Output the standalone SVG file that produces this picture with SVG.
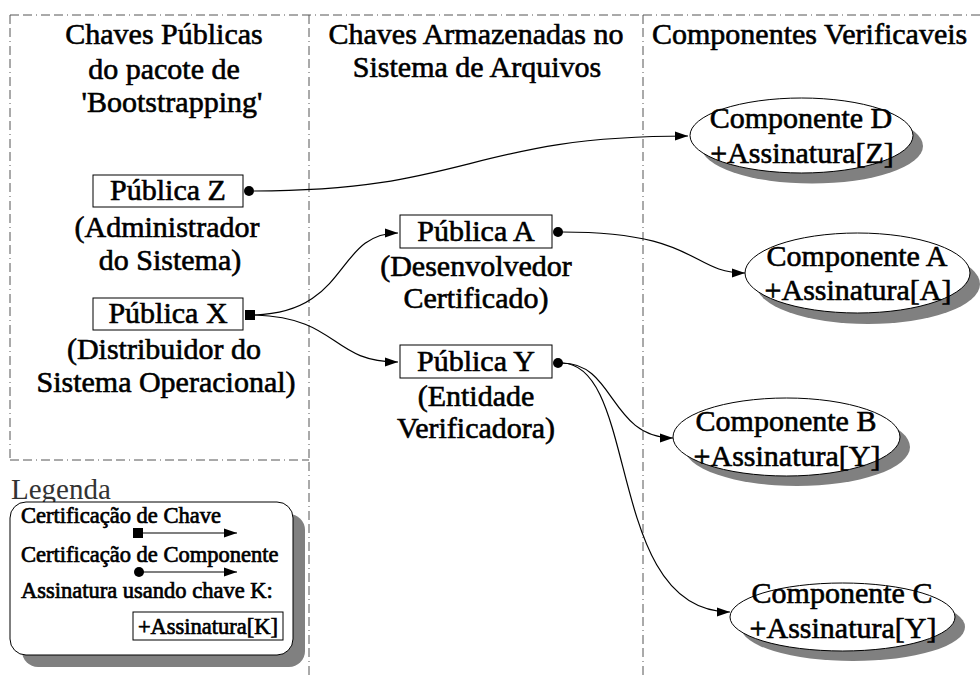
<svg xmlns="http://www.w3.org/2000/svg" width="980" height="678" viewBox="0 0 980 678">
<style>
text{font-family:'Liberation Serif','Times New Roman',Tinos,Times,serif}
.t{font-size:30px;fill:#000;stroke:#000;stroke-width:0.6}
.m{text-anchor:middle}
.lg{font-size:22.5px;fill:#000;stroke:#000;stroke-width:0.7}
.lt{font-size:29px;fill:#333}
.sep{stroke:#555;stroke-width:1;stroke-dasharray:9 4 9 4 1 4;fill:none}
.box{fill:#fff;stroke:#000;stroke-width:1}
.sh{fill:#808080}
.c{fill:none;stroke:#000;stroke-width:1.2}
</style>
<defs>
<marker id="ar" markerUnits="userSpaceOnUse" markerWidth="14" markerHeight="10" refX="13" refY="5" orient="auto">
<path d="M0,0.5 L13,5 L0,9.5 Z" fill="#000"/>
</marker>
</defs>
<rect width="980" height="678" fill="#fff"/>
<g id="separators">
<path class="sep" d="M10,15 H980 M10,15 V460 M309,15 V678 M643,15 V678 M10,460 H309"/>
</g>
<g id="headers">
<text class="t m" x="164" y="44">Chaves Públicas</text>
<text class="t m" x="164" y="79">do pacote de</text>
<text class="t m" x="172" y="112">'Bootstrapping'</text>
<text class="t m" x="476" y="44">Chaves Armazenadas no</text>
<text class="t m" x="477" y="77">Sistema de Arquivos</text>
<text class="t" x="652" y="44">Componentes Verificaveis</text>
</g>
<g id="publica-z">
<rect class="box" x="93" y="175" width="150" height="32"/>
<text class="t m" x="168" y="200">Pública Z</text>
<text class="t m" x="167" y="237">(Administrador</text>
<text class="t m" x="170" y="270">do Sistema)</text>
</g>
<g id="publica-x">
<rect class="box" x="93" y="298" width="150" height="32"/>
<text class="t m" x="168" y="323">Pública X</text>
<text class="t m" x="164" y="359">(Distribuidor do</text>
<text class="t m" x="166" y="392">Sistema Operacional)</text>
</g>
<g id="publica-a">
<rect class="box" x="400" y="215" width="152" height="33"/>
<text class="t m" x="476" y="241">Pública A</text>
<text class="t m" x="476" y="276">(Desenvolvedor</text>
<text class="t m" x="476" y="308">Certificado)</text>
</g>
<g id="publica-y">
<rect class="box" x="400" y="345" width="152" height="33"/>
<text class="t m" x="476" y="371">Pública Y</text>
<text class="t m" x="476" y="406">(Entidade</text>
<text class="t m" x="476" y="438">Verificadora)</text>
</g>
<g id="componente-d">
<ellipse class="sh" cx="812" cy="146" rx="111" ry="37.5"/>
<ellipse class="box" cx="801.5" cy="135.5" rx="111.5" ry="37.5"/>
<text class="t m" x="801" y="128">Componente D</text>
<text class="t m" x="802" y="163">+Assinatura[Z]</text>
</g>
<g id="componente-a">
<ellipse class="sh" cx="868" cy="284" rx="112" ry="40"/>
<ellipse class="box" cx="857.5" cy="273" rx="112.5" ry="40"/>
<text class="t m" x="857" y="266">Componente A</text>
<text class="t m" x="858" y="300">+Assinatura[A]</text>
</g>
<g id="componente-b">
<ellipse class="sh" cx="797" cy="447" rx="113" ry="39"/>
<ellipse class="box" cx="786.5" cy="437" rx="113.5" ry="39"/>
<text class="t m" x="786" y="431">Componente B</text>
<text class="t m" x="787" y="466">+Assinatura[Y]</text>
</g>
<g id="componente-c">
<ellipse class="sh" cx="853" cy="627" rx="112" ry="34"/>
<ellipse class="box" cx="842.5" cy="617" rx="112.5" ry="34"/>
<text class="t m" x="842" y="603">Componente C</text>
<text class="t m" x="843" y="638">+Assinatura[Y]</text>
</g>
<g id="connectors">
<path class="c" d="M254,191 C470,191 470,136 688,136" marker-end="url(#ar)"/>
<path class="c" d="M255,315 C350,312 335,233 398,233" marker-end="url(#ar)"/>
<path class="c" d="M255,315 C340,318 330,362 398,362" marker-end="url(#ar)"/>
<path class="c" d="M562,232 C700,232 690,273 745,273" marker-end="url(#ar)"/>
<path class="c" d="M562,363 C615,363 610,438 673,438" marker-end="url(#ar)"/>
<path class="c" d="M562,363 C640,365 605,612 730,612" marker-end="url(#ar)"/>
<circle cx="249" cy="191" r="5" fill="#000"/>
<rect x="245" y="310" width="10" height="10" fill="#000"/>
<circle cx="558" cy="232" r="5" fill="#000"/>
<circle cx="558" cy="363" r="5" fill="#000"/>
</g>
<g id="legenda">
<text class="lt" x="11" y="499">Legenda</text>
<rect class="sh" x="22" y="514" width="283" height="153" rx="16"/>
<rect class="box" x="10" y="502" width="283" height="153" rx="16"/>
<text class="lg" x="21" y="523">Certificação de Chave</text>
<rect x="133" y="528" width="10" height="10" fill="#000"/>
<path class="c" d="M143,533 H237" marker-end="url(#ar)"/>
<text class="lg" x="21" y="562">Certificação de Componente</text>
<circle cx="139" cy="572" r="5" fill="#000"/>
<path class="c" d="M143,572 H237" marker-end="url(#ar)"/>
<text class="lg" x="21" y="598">Assinatura usando chave K:</text>
<rect class="box" x="133" y="612" width="150" height="28"/>
<text class="lg m" x="208" y="634">+Assinatura[K]</text>
</g>
</svg>
